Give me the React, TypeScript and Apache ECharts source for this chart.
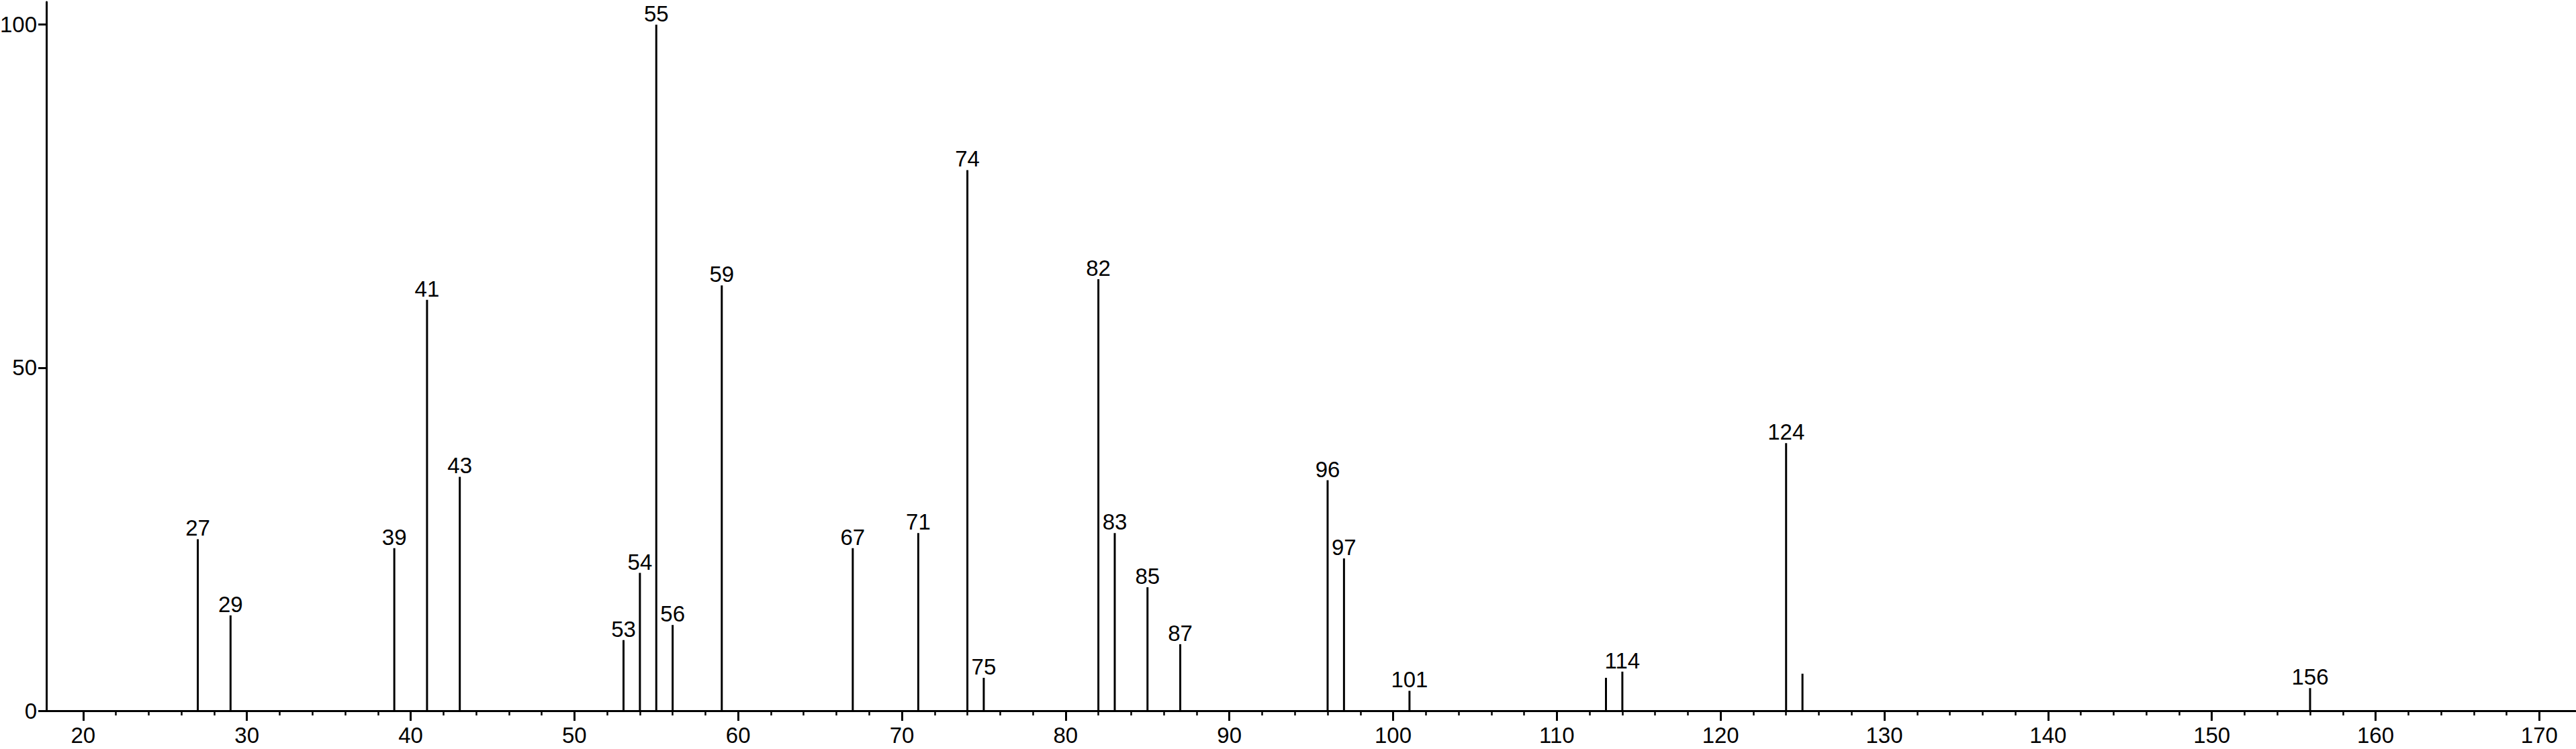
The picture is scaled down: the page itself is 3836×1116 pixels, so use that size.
import React, { useEffect, useRef } from "react";
import * as echarts from "echarts";

const mz = [27, 29, 39, 41, 43, 53, 54, 55, 56, 59, 67, 71, 74, 75, 82, 83, 85, 87, 96, 97, 101, 113, 114, 124, 125, 156];
const intensity = [25.0, 13.9, 23.7, 59.9, 34.1, 10.3, 20.1, 100, 12.5, 62.0, 23.7, 25.9, 78.8, 4.8, 62.9, 25.9, 18.0, 9.7, 33.6, 22.2, 2.9, 4.8, 5.7, 39.0, 5.4, 3.3];
const unlabeled = [113, 125];
const xMajorTicks = [20, 30, 40, 50, 60, 70, 80, 90, 100, 110, 120, 130, 140, 150, 160, 170];
const xMinorTicks = [
  22, 24, 26, 28, 32, 34, 36, 38, 42, 44, 46, 48, 52, 54, 56, 58, 62, 64, 66, 68,
  72, 74, 76, 78, 82, 84, 86, 88, 92, 94, 96, 98, 102, 104, 106, 108, 112, 114, 116, 118,
  122, 124, 126, 128, 132, 134, 136, 138, 142, 144, 146, 148, 152, 154, 156, 158,
  162, 164, 166, 168,
];
const yTicks = [0, 50, 100];

const FONT = "'Liberation Sans', Arial, Helvetica, sans-serif";
const X_MIN = 17.75;
const X_MAX = 172.2;
const Y_MAX = 103.3;

export default function App() {
  const ref = useRef<HTMLDivElement>(null);
  useEffect(() => {
    const chart = echarts.init(ref.current as HTMLDivElement, null, { renderer: "svg", width: 3836, height: 1116 });
    chart.setOption({
      animation: false,
      backgroundColor: "#ffffff",
      textStyle: { fontFamily: FONT, color: "#000" },
      grid: { left: 69, right: 1, top: 3, bottom: 57, containLabel: false, outerBoundsMode: "none" },
      xAxis: [
        {
          type: "value",
          min: X_MIN,
          max: X_MAX,
          position: "bottom",
          axisLine: { show: true, onZero: false, lineStyle: { color: "#000", width: 3 } },
          axisTick: { show: true, customValues: xMajorTicks, length: 15, lineStyle: { color: "#000", width: 3 } },
          axisLabel: { show: true, customValues: xMajorTicks, color: "#000", fontSize: 33, fontFamily: FONT, margin: 20 },
          splitLine: { show: false },
        },
        {
          type: "value",
          min: X_MIN,
          max: X_MAX,
          position: "bottom",
          axisLine: { show: false, onZero: false },
          axisTick: { show: true, customValues: xMinorTicks, length: 7, lineStyle: { color: "#000", width: 2.5 } },
          axisLabel: { show: false },
          splitLine: { show: false },
        },
      ],
      yAxis: {
        type: "value",
        min: 0,
        max: Y_MAX,
        axisLine: { show: true, onZero: false, lineStyle: { color: "#000", width: 3 } },
        axisTick: { show: true, customValues: yTicks, length: 12, lineStyle: { color: "#000", width: 3 } },
        axisLabel: { show: true, customValues: yTicks, color: "#000", fontSize: 33, fontFamily: FONT, margin: 14 },
        splitLine: { show: false },
      },
      series: [
        {
          type: "bar",
          xAxisIndex: 0,
          yAxisIndex: 0,
          barWidth: 3,
          itemStyle: { color: "#000" },
          label: {
            show: true,
            position: "top",
            distance: 0,
            color: "#000",
            fontSize: 33,
            fontFamily: FONT,
            formatter: (p: any) => String(p.value[0]),
          },
          data: mz.map((m, i) => ({
            value: [m, intensity[i]],
            label: { show: !unlabeled.includes(m) },
          })),
        },
      ],
    });
    return () => chart.dispose();
  }, []);
  return (
    <div
      ref={ref}
      style={{ position: "absolute", left: 0, top: 0, width: 3836, height: 1116, background: "#fff" }}
    />
  );
}
